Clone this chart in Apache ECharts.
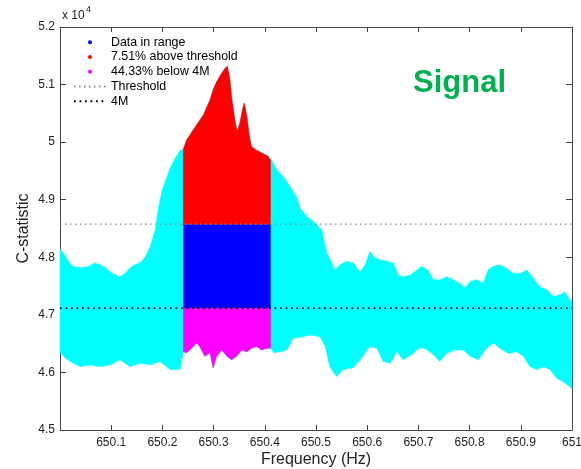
<!DOCTYPE html>
<html lang="en">
<head>
    <meta charset="UTF-8">
    <title>C-statistic</title>
    <script src="https://cdn.jsdelivr.net/npm/echarts@6/dist/echarts.min.js"></script>
</head>
<body style="margin:0">
<div id="main" style="width:581px;height:469px"></div>
<script>
// edges of the C-statistic cloud, [frequency (Hz), C]
var upperEdge = [
    [650.000, 48150], [650.012, 48000], [650.023, 47850], [650.039, 47820], [650.055, 47840],
    [650.068, 47900], [650.078, 47870], [650.090, 47810], [650.102, 47720], [650.117, 47660],
    [650.127, 47720], [650.137, 47820], [650.148, 47880], [650.156, 47900], [650.166, 48000],
    [650.176, 48180], [650.186, 48480], [650.191, 48800], [650.199, 49150], [650.207, 49350],
    [650.215, 49550], [650.225, 49720], [650.234, 49850], [650.241, 49880], [650.2475, 50040],
    [650.254, 50125], [650.260, 50210], [650.267, 50300], [650.280, 50470], [650.293, 50730],
    [650.299, 50910], [650.306, 51050], [650.316, 51200], [650.322, 51280], [650.327, 51320],
    [650.332, 51080], [650.335, 50790], [650.342, 50360], [650.346, 50180], [650.352, 50360],
    [650.357, 50590], [650.360, 50680], [650.365, 50440], [650.370, 50100], [650.374, 49920],
    [650.384, 49860], [650.397, 49800], [650.407, 49750], [650.411, 49690], [650.4135, 49690],
    [650.423, 49520], [650.436, 49400], [650.449, 49230], [650.462, 49050], [650.469, 48850],
    [650.482, 48710], [650.498, 48600], [650.511, 48480], [650.521, 48070], [650.531, 47900],
    [650.537, 47780], [650.547, 47870], [650.560, 47930], [650.573, 47900], [650.586, 47750],
    [650.596, 47870], [650.605, 48100], [650.615, 47990], [650.628, 47950], [650.638, 47930],
    [650.651, 47900], [650.661, 47690], [650.670, 47660], [650.684, 47690], [650.697, 47780],
    [650.706, 47840], [650.719, 47780], [650.729, 47610], [650.742, 47610], [650.755, 47660],
    [650.768, 47610], [650.781, 47550], [650.791, 47470], [650.801, 47580], [650.814, 47610],
    [650.827, 47550], [650.836, 47780], [650.846, 47840], [650.859, 47870], [650.872, 47810],
    [650.885, 47720], [650.898, 47720], [650.912, 47780], [650.924, 47640], [650.937, 47490],
    [650.951, 47430], [650.964, 47320], [650.977, 47350], [650.986, 47400], [650.996, 47260],
    [651.000, 47220]
];
var lowerEdge = [
    [650.000, 46350], [650.010, 46250], [650.020, 46190], [650.039, 46100], [650.059, 46130],
    [650.078, 46100], [650.098, 46130], [650.117, 46220], [650.137, 46100], [650.156, 46160],
    [650.176, 46130], [650.195, 46190], [650.215, 46050], [650.234, 46050], [650.241, 46360],
    [650.2475, 46340], [650.257, 46420], [650.267, 46510], [650.273, 46450], [650.283, 46280],
    [650.293, 46340], [650.299, 46080], [650.306, 46280], [650.316, 46390], [650.326, 46280],
    [650.335, 46220], [650.345, 46280], [650.355, 46390], [650.365, 46360], [650.374, 46420],
    [650.384, 46450], [650.394, 46390], [650.404, 46420], [650.411, 46420], [650.418, 46340],
    [650.430, 46360], [650.443, 46390], [650.456, 46600], [650.469, 46610], [650.488, 46650],
    [650.508, 46620], [650.518, 46450], [650.527, 46100], [650.540, 45930], [650.553, 46050],
    [650.573, 46080], [650.589, 46250], [650.605, 46450], [650.619, 46420], [650.631, 46190],
    [650.645, 46160], [650.658, 46360], [650.670, 46220], [650.687, 46310], [650.700, 46420],
    [650.713, 46420], [650.729, 46310], [650.742, 46190], [650.755, 46330], [650.771, 46390],
    [650.788, 46390], [650.801, 46280], [650.817, 46220], [650.830, 46390], [650.846, 46510],
    [650.859, 46420], [650.876, 46330], [650.892, 46360], [650.905, 46280], [650.918, 46100],
    [650.931, 46050], [650.944, 46100], [650.957, 46050], [650.970, 45900], [650.983, 45840],
    [650.996, 45750], [651.000, 45700]
];
var inRange = [650.241, 650.411];
var threshold = 48575;
var level4M = 47115;

var freqTicks = ['', '650.1', '650.2', '650.3', '650.4', '650.5', '650.6', '650.7', '650.8', '650.9', '651'];
var cTicks = ['4.5', '4.6', '4.7', '4.8', '4.9', '5', '5.1', '5.2'];

var font = 'Liberation Sans, Arial, sans-serif';
var axisColor = '#444';

var chart = echarts.init(document.getElementById('main'));

function pick(api, edge, from, to) {
    var pts = [];
    for (var i = 0; i < edge.length; i++) {
        if (edge[i][0] >= from - 1e-9 && edge[i][0] <= to + 1e-9) {
            pts.push(api.coord(edge[i]));
        }
    }
    return pts;
}

function poly(points, color) {
    return {
        type: 'polygon',
        shape: { points: points },
        style: { fill: color, stroke: color, lineWidth: 0.5 }
    };
}

var noMarker = { opacity: 0, color: 'rgba(0,0,0,0)', borderWidth: 0 };

var option = {
    animation: false,
    backgroundColor: '#fff',
    grid: { left: 60, right: 9, top: 27, bottom: 39, containLabel: false, outerBoundsMode: 'none' },
    legend: {
        orient: 'vertical',
        left: 73,
        top: 35,
        padding: 0,
        itemWidth: 32,
        itemHeight: 4,
        itemGap: 0,
        selectedMode: false,
        textStyle: { fontSize: 12.4, color: '#000', fontFamily: font, lineHeight: 14.7 },
        data: [
            { name: 'Data in range', icon: 'circle' },
            { name: '7.51% above threshold', icon: 'circle' },
            { name: '44.33% below 4M', icon: 'circle' },
            { name: 'Threshold', itemStyle: noMarker },
            { name: '4M', itemStyle: noMarker }
        ]
    },
    graphic: [
        { type: 'text', left: 62, top: 10, style: { text: 'x 10', fontSize: 12, fontFamily: font, fill: '#222' } },
        { type: 'text', left: 86, top: 5, style: { text: '4', fontSize: 9, fontFamily: font, fill: '#222' } },
        { type: 'text', x: 413, y: 83, style: { text: 'Signal', fontSize: 31, fontWeight: 'bold', fontFamily: font, fill: '#00b050', verticalAlign: 'middle' } }
    ],
    xAxis: [{
        type: 'value',
        min: 650,
        max: 651,
        interval: 0.1,
        name: 'Frequency (Hz)',
        nameLocation: 'middle',
        nameGap: 22,
        nameMoveOverlap: false,
        nameTextStyle: { fontSize: 16, color: '#222', fontFamily: font },
        axisLine: { show: true, onZero: false, lineStyle: { color: axisColor, width: 1 } },
        axisTick: { show: true, inside: true, length: 5, lineStyle: { color: axisColor } },
        axisLabel: {
            color: '#222', fontSize: 12, fontFamily: font, margin: 7,
            formatter: function (v, i) { return freqTicks[i]; }
        },
        splitLine: { show: false }
    }, {
        type: 'value',
        position: 'top',
        min: 650,
        max: 651,
        interval: 0.1,
        axisLine: { show: true, onZero: false, lineStyle: { color: axisColor, width: 1 } },
        axisTick: { show: true, inside: true, length: 5, lineStyle: { color: axisColor } },
        axisLabel: { show: false },
        splitLine: { show: false }
    }],
    yAxis: [{
        type: 'value',
        min: 45000,
        max: 52000,
        interval: 1000,
        name: 'C-statistic',
        nameLocation: 'middle',
        nameGap: 28,
        nameMoveOverlap: false,
        nameTextStyle: { fontSize: 16, color: '#222', fontFamily: font },
        axisLine: { show: true, onZero: false, lineStyle: { color: axisColor, width: 1 } },
        axisTick: { show: true, inside: true, length: 6, lineStyle: { color: axisColor } },
        axisLabel: {
            color: '#222', fontSize: 12, fontFamily: font, margin: 5,
            formatter: function (v, i) { return cTicks[i]; }
        },
        splitLine: { show: false }
    }, {
        type: 'value',
        position: 'right',
        min: 45000,
        max: 52000,
        interval: 1000,
        axisLine: { show: true, onZero: false, lineStyle: { color: axisColor, width: 1 } },
        axisTick: { show: true, inside: true, length: 6, lineStyle: { color: axisColor } },
        axisLabel: { show: false },
        splitLine: { show: false }
    }],
    series: [{
        name: 'cloud',
        type: 'custom',
        z: 1,
        data: [[650, 45000]],
        itemStyle: { color: '#00ffff' },
        renderItem: function (params, api) {
            var pts = pick(api, upperEdge, 650, 651).concat(pick(api, lowerEdge, 650, 651).reverse());
            return poly(pts, '#00ffff');
        }
    }, {
        name: 'Data in range',
        type: 'custom',
        z: 2,
        data: [[inRange[0], level4M, inRange[1], threshold]],
        itemStyle: { color: '#0000ff' },
        renderItem: function (params, api) {
            var a = api.coord([api.value(0), api.value(1)]);
            var b = api.coord([api.value(2), api.value(3)]);
            return poly([[a[0], a[1]], [b[0], a[1]], [b[0], b[1]], [a[0], b[1]]], '#0000ff');
        }
    }, {
        name: '7.51% above threshold',
        type: 'custom',
        z: 2,
        data: [[inRange[0], threshold]],
        itemStyle: { color: '#ff0000' },
        renderItem: function (params, api) {
            var pts = pick(api, upperEdge, inRange[0], inRange[1]);
            pts.push(api.coord([inRange[1], threshold]), api.coord([inRange[0], threshold]));
            return poly(pts, '#ff0000');
        }
    }, {
        name: '44.33% below 4M',
        type: 'custom',
        z: 2,
        data: [[inRange[0], level4M]],
        itemStyle: { color: '#ff00ff' },
        renderItem: function (params, api) {
            var pts = [api.coord([inRange[0], level4M]), api.coord([inRange[1], level4M])];
            pts = pts.concat(pick(api, lowerEdge, inRange[0], inRange[1]).reverse());
            return poly(pts, '#ff00ff');
        }
    }, {
        name: 'Threshold',
        type: 'line',
        z: 5,
        symbol: 'none',
        data: [[650, threshold], [651, threshold]],
        lineStyle: { color: '#8a8a8a', width: 1.2, type: [1.5, 3.5] },
        itemStyle: { color: '#8a8a8a' }
    }, {
        name: '4M',
        type: 'line',
        z: 5,
        symbol: 'none',
        data: [[650, level4M], [651, level4M]],
        lineStyle: { color: '#000', width: 1.5, type: [1.8, 3.7] },
        itemStyle: { color: '#000' }
    }]
};

chart.setOption(option);
</script>
</body>
</html>
